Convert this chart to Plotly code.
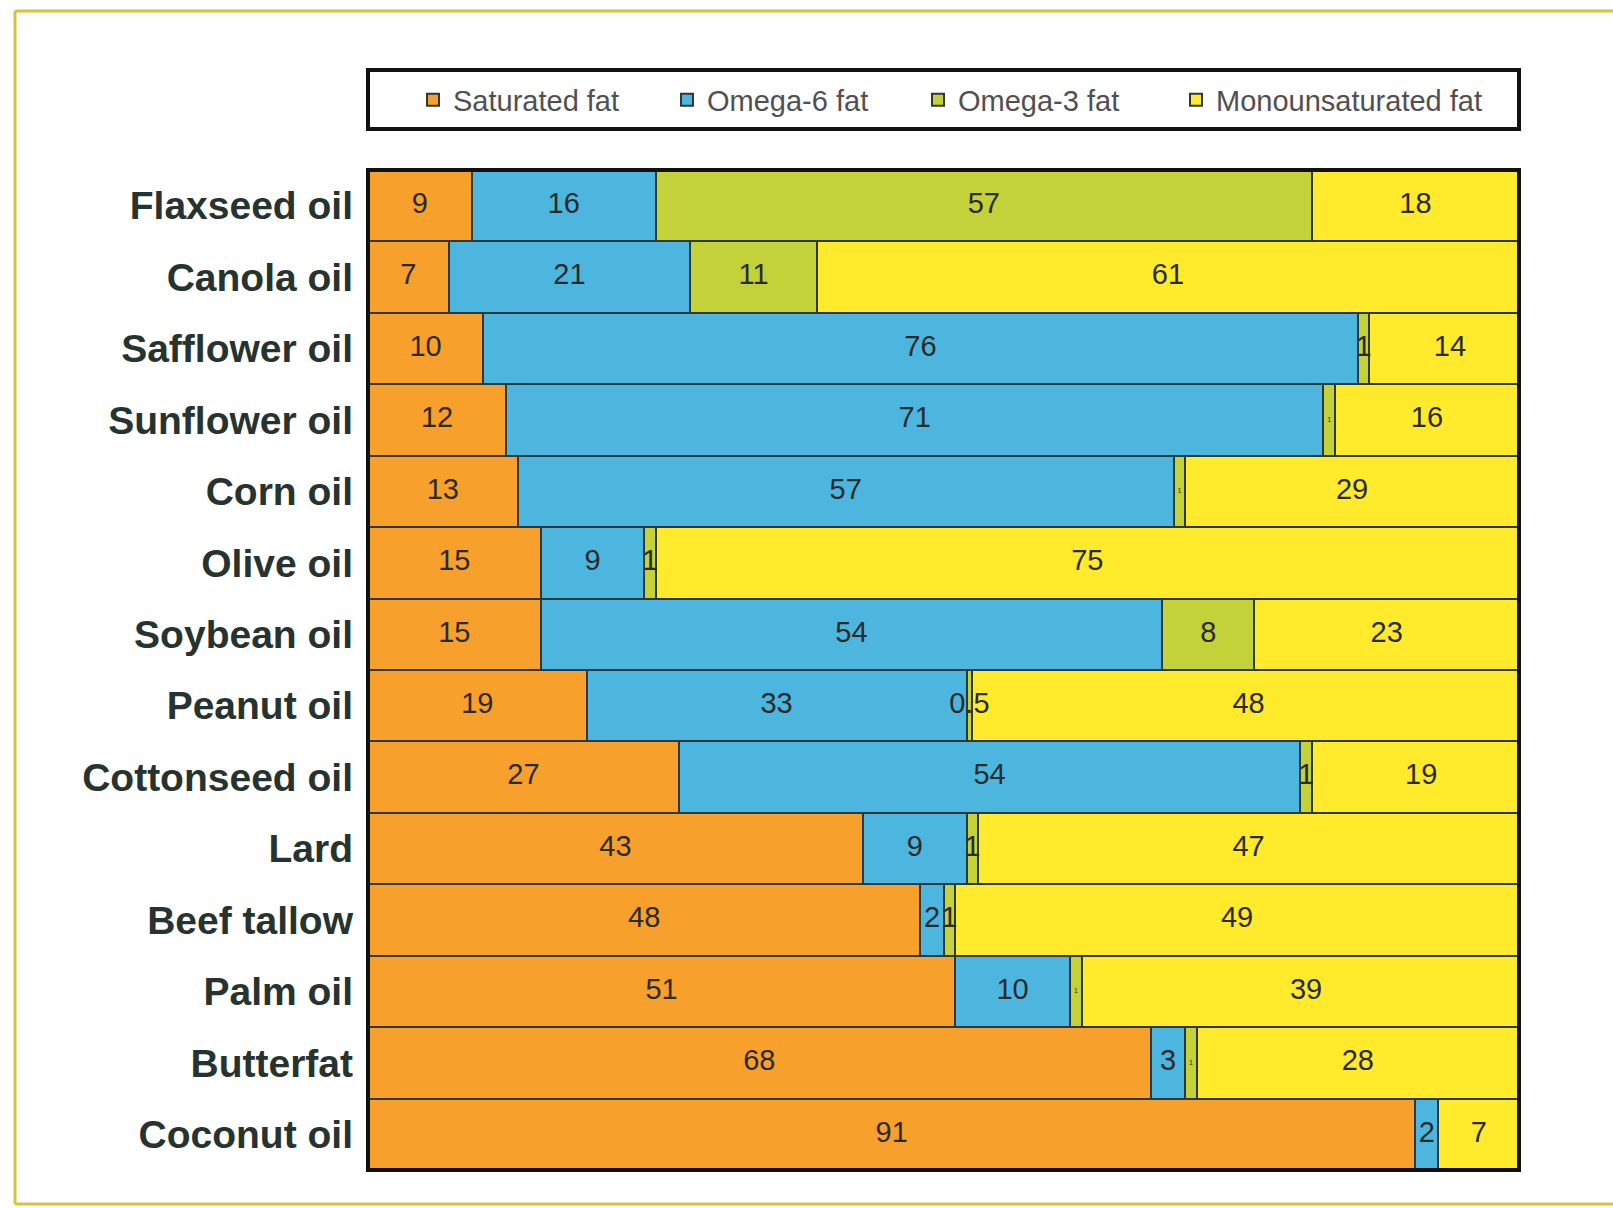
import numpy as np
import plotly.graph_objects as go

# Fat composition of common cooking fats and oils (% of total fat)
oils = ["Flaxseed oil", "Canola oil", "Safflower oil", "Sunflower oil", "Corn oil",
        "Olive oil", "Soybean oil", "Peanut oil", "Cottonseed oil", "Lard",
        "Beef tallow", "Palm oil", "Butterfat", "Coconut oil"]

saturated = [9, 7, 10, 12, 13, 15, 15, 19, 27, 43, 48, 51, 68, 91]
omega6 = [16, 21, 76, 71, 57, 9, 54, 33, 54, 9, 2, 10, 3, 2]
omega3 = [57, 11, 1, 1, 1, 1, 8, 0.5, 1, 1, 1, 1, 1, 0]
monounsaturated = [18, 61, 14, 16, 29, 75, 23, 48, 19, 47, 49, 39, 28, 7]

series_names = ["Saturated fat", "Omega-6 fat", "Omega-3 fat", "Monounsaturated fat"]
series_values = [saturated, omega6, omega3, monounsaturated]
series_colors = ["#F7A02B", "#4DB6DF", "#C4D23A", "#FFEB2C"]

# oils whose omega-3 sliver only carries a tiny label
tiny_omega3_labels = ["Sunflower oil", "Corn oil", "Palm oil", "Butterfat"]

LABEL_SIZE = 29
TINY_SIZE = 7
FONT = "Liberation Sans, Arial, sans-serif"

W, H = 1613, 1208
L, R, T, B = 368, 94, 170, 38
pw, ph = W - L - R, H - T - B


def px_x(p):
    return (p - L) / pw


def px_y(p):
    return (H - B - p) / ph


# each series gets its own one-item legend so the entries sit at fixed spots
legend_ids = ["legend", "legend2", "legend3", "legend4"]
legend_px = [413, 667, 918, 1176]

fig = go.Figure()
for name, vals, color, lid in zip(series_names, series_values, series_colors, legend_ids):
    fig.add_trace(go.Bar(
        y=oils, x=vals, name=name, orientation="h", legend=lid,
        marker=dict(color=color, line=dict(color="#2E3838", width=2)),
        hoverinfo="x+y+name",
    ))

# value labels drawn above all the segments, centred on each segment
stack = np.array(series_values, dtype=float)
ends = np.cumsum(stack, axis=0)
mids = ends - stack / 2
for name, vals, mid in zip(series_names, series_values, mids):
    texts = [("%g" % v) if v else "" for v in vals]
    sizes = [TINY_SIZE if (name == "Omega-3 fat" and oil in tiny_omega3_labels) else LABEL_SIZE
             for oil in oils]
    fig.add_trace(go.Scatter(
        y=oils, x=mid, mode="text", text=texts, textposition="middle center",
        textfont=dict(family=FONT, size=sizes, color="#2A2A2A"),
        showlegend=False, hoverinfo="skip", cliponaxis=True,
    ))

shapes = [
    # outer frame
    dict(type="line", xref="paper", yref="paper", x0=px_x(15), x1=px_x(W + 5),
         y0=px_y(11), y1=px_y(11), line=dict(color="#D8C23C", width=3)),
    dict(type="line", xref="paper", yref="paper", x0=px_x(15), x1=px_x(15),
         y0=px_y(11), y1=px_y(1204), line=dict(color="#D8C23C", width=3)),
    dict(type="line", xref="paper", yref="paper", x0=px_x(15), x1=px_x(W + 5),
         y0=px_y(1204), y1=px_y(1204), line=dict(color="#D8C23C", width=3)),
    # legend box
    dict(type="rect", xref="paper", yref="paper", x0=0, x1=1,
         y0=px_y(129), y1=px_y(70), line=dict(color="#111111", width=4)),
    # plot frame
    dict(type="rect", xref="paper", yref="paper", x0=0, x1=1, y0=0, y1=1,
         line=dict(color="#111111", width=4), layer="above"),
]

legend_style = dict(
    orientation="h", xanchor="left", y=px_y(100), yanchor="middle",
    font=dict(family=FONT, size=29, color="#505050"),
    bgcolor="rgba(0,0,0,0)", borderwidth=0,
)

fig.update_layout(
    width=W, height=H,
    margin=dict(l=L, r=R, t=T, b=B),
    barmode="stack", bargap=0,
    paper_bgcolor="white", plot_bgcolor="white",
    showlegend=True,
    xaxis=dict(range=[0, 100], visible=False, fixedrange=True),
    yaxis=dict(
        range=[len(oils) - 0.5, -0.5], autorange=False,
        ticks="", showline=False, showgrid=False, zeroline=False,
        ticklabelstandoff=14,
        tickfont=dict(family=FONT, size=39, weight="bold", color="#26332E"),
    ),
    shapes=shapes,
)
for lid, lx in zip(legend_ids, legend_px):
    fig.update_layout({lid: dict(legend_style, x=px_x(lx))})

fig.write_html("out.html")
